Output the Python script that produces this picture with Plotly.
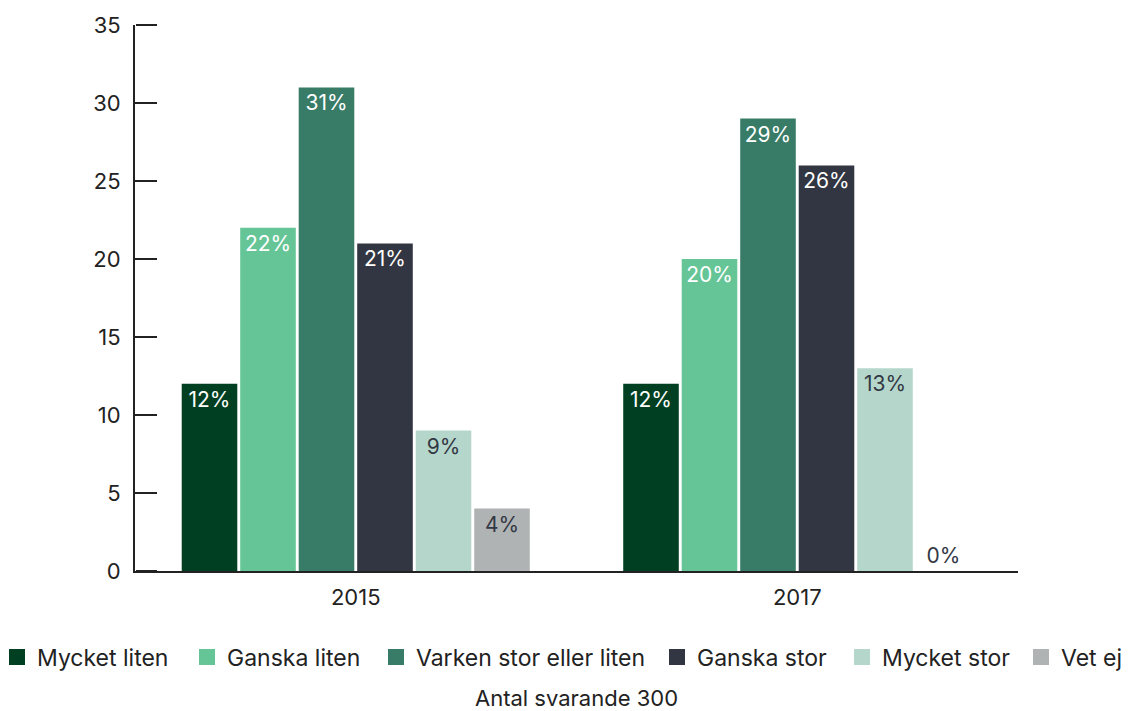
import plotly.graph_objects as go

years = ["2015", "2017"]
series_names = ["Mycket liten", "Ganska liten", "Varken stor eller liten", "Ganska stor", "Mycket stor", "Vet ej"]
values = {
    "Mycket liten": [12, 12],
    "Ganska liten": [22, 20],
    "Varken stor eller liten": [31, 29],
    "Ganska stor": [21, 26],
    "Mycket stor": [9, 13],
    "Vet ej": [4, 0],
}
colors = ["#013f23", "#66c597", "#387b66", "#323642", "#b5d7cb", "#b0b3b4"]
text_colors = ["white", "white", "white", "white", "#333845", "#333845"]
y_ticks = [0, 5, 10, 15, 20, 25, 30, 35]
footnote = "Antal svarande 300"

# legend entry left positions (px from figure's left edge)
legend_px = [-11, 179, 368, 649, 834, 1013]

FONT = "Inter, Roboto, sans-serif"
W, H = 1130, 711
ML, MR, MT, MB = 127, 120, 17, 148
PW = W - ML - MR

fig = go.Figure()
legend_layouts = {}
for i, (name, col, tcol) in enumerate(zip(series_names, colors, text_colors)):
    vals = values[name]
    fig.add_trace(go.Bar(
        name=name, x=years, y=vals,
        marker=dict(color=col, line=dict(width=0)),
        text=[f"{v}%" for v in vals],
        textposition=["inside" if v > 0 else "outside" for v in vals],
        insidetextanchor="end",
        textfont=dict(color=tcol, size=21, family=FONT),
        outsidetextfont=dict(color="#333845", size=21, family=FONT),
        textangle=0,
        cliponaxis=False,
        showlegend=False,
    ))
    lg = "legend" if i == 0 else f"legend{i + 1}"
    fig.add_trace(go.Scatter(
        name=name, x=[None], y=[None], mode="markers",
        marker=dict(symbol="square", size=16, color=col),
        showlegend=True, hoverinfo="skip", yaxis="y2", legend=lg,
    ))
    if i == 0:
        pos = dict(xref="paper", x=(legend_px[i] - ML) / PW)
    else:
        pos = dict(xref="container", x=legend_px[i] / W)
    legend_layouts[lg] = dict(
        orientation="h", xanchor="left",
        y=-0.1575, yanchor="middle",
        font=dict(size=23, color="#222222"),
        itemsizing="trace", itemwidth=30, bgcolor="rgba(0,0,0,0)",
        **pos,
    )

fig.update_layout(
    width=W, height=H,
    paper_bgcolor="white", plot_bgcolor="white",
    barmode="group", bargap=0.205, bargroupgap=0.05,
    margin=dict(l=ML, r=MR, t=MT, b=MB, autoexpand=False),
    font=dict(family=FONT, color="#222222"),
    xaxis=dict(
        showline=True, linecolor="#222222", linewidth=2,
        ticks="outside", ticklen=6, tickcolor="rgba(0,0,0,0)",
        showgrid=False,
        tickfont=dict(size=22, color="#222222"),
        range=[-0.5, 1.5],
    ),
    yaxis=dict(
        range=[0, 35], tickvals=y_ticks,
        showline=True, linecolor="#222222", linewidth=2,
        ticks="inside", ticklen=21, tickwidth=2, tickcolor="#222222",
        showgrid=False, zeroline=False,
        tickfont=dict(size=22, color="#222222"),
        ticklabelstandoff=8,
    ),
    yaxis2=dict(
        overlaying="y", anchor="free", position=0, side="right",
        range=[0, 35], tickvals=y_ticks,
        ticks="outside", ticklen=21, tickwidth=2, tickcolor="#222222",
        showticklabels=False, showline=False, showgrid=False, zeroline=False,
    ),
    annotations=[dict(
        text=footnote, x=0.5, xref="paper", y=-0.232, yref="paper",
        xanchor="center", yanchor="middle", showarrow=False,
        font=dict(size=22, color="#222222"),
    )],
    **legend_layouts,
)

fig.write_html("out.html")
